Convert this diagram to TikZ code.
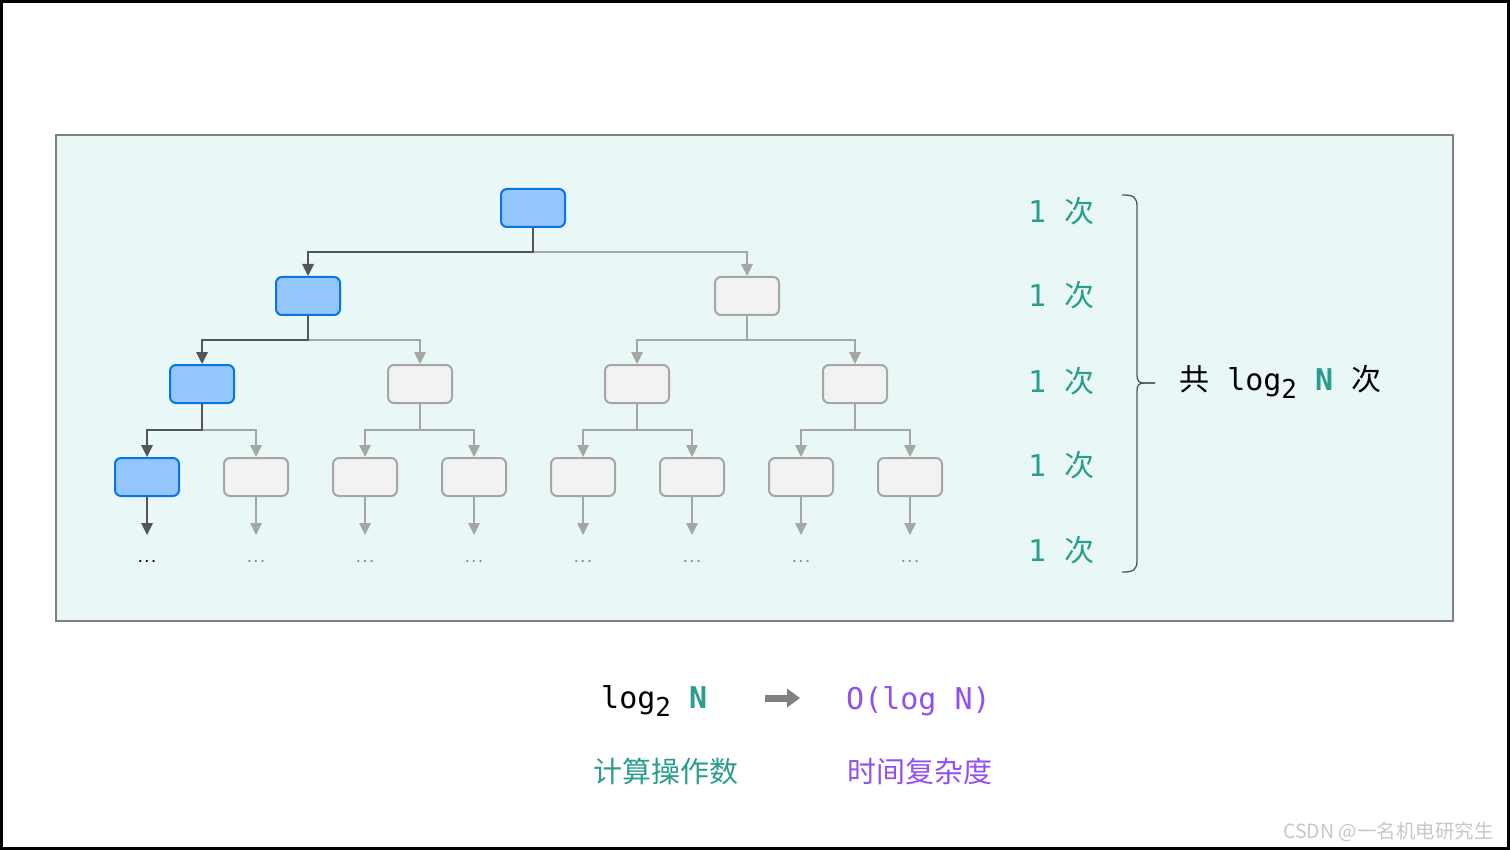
\documentclass[tikz,border=0pt]{standalone}
\usepackage{fontspec}
\usetikzlibrary{arrows.meta}
\newfontfamily\monof{DejaVu Sans Mono}
\newfontfamily\cjk{Noto Sans CJK SC}
\definecolor{panelbg}{HTML}{E9F8F7}
\definecolor{panelline}{HTML}{808080}
\definecolor{hifill}{HTML}{93C6FB}
\definecolor{hidraw}{HTML}{0A73E6}
\definecolor{lofill}{HTML}{F2F2F2}
\definecolor{lodraw}{HTML}{A6A6A6}
\definecolor{hiedge}{HTML}{555555}
\definecolor{loedge}{HTML}{A6A6A6}
\definecolor{opteal}{HTML}{2A9D8C}
\definecolor{oppurple}{HTML}{9150F0}
\newcommand\bigtxt{\fontsize{30}{30}\selectfont}
\newcommand\cjktxt{\fontsize{29}{29}\selectfont}
\newcommand\subtwo{\raisebox{-8pt}{\fontsize{26}{26}\selectfont 2}}

\tikzset{
  every node/.style={inner sep=0pt},
  hibox/.style={draw=hidraw, fill=hifill, line width=2pt, rounded corners=6pt,
    minimum width=64pt, minimum height=38pt},
  lobox/.style={hibox, draw=lodraw, fill=lofill},
  hiline/.style={draw=hiedge, line width=2pt,
    -{Triangle[length=12pt,width=12pt,line width=0pt]}},
  loline/.style={hiline, draw=loedge},
  dotsnode/.style={anchor=north, text height=27pt, text depth=0pt,
    font=\monof\bfseries\fontsize{11}{11}\selectfont},
  cnt/.style={anchor=base west, font=\monof\bigtxt, text=opteal}
}

\begin{document}
\begin{tikzpicture}[x=1pt,y=-1pt]
\useasboundingbox (0,0) rectangle (1510,850);
\draw[line width=3pt] (1.5,1.5) rectangle (1508.5,848.5);
\draw[fill=panelbg, draw=panelline, line width=2pt] (56,135) rectangle (1453,621);

% tree
\node[hibox] (r) at (533,208) {};
\node[hibox] (a) at (308,296) {};
\node[lobox] (b) at (747,296) {};
\node[hibox] (aa) at (202,384) {};
\node[lobox] (ab) at (420,384) {};
\node[lobox] (ba) at (637,384) {};
\node[lobox] (bb) at (855,384) {};
\node[hibox] (l1) at (147,477) {};
\node[dotsnode] (d1) at (147,535) {...};
\foreach \i in {2,...,8} {
  \pgfmathsetmacro\xx{38+109*\i}
  \node[lobox] (l\i) at (\xx,477) {};
  \node[dotsnode, text=black!45] (d\i) at (\xx,535) {...};
  \draw[loline] (l\i) -- (d\i);
}
\draw[hiline] (l1) -- (d1);

\draw[loline] (r.south) -- ++(0,24) -| (b.north);
\draw[hiline] (r.south) -- ++(0,24) -| (a.north);
\draw[loline] (a.south) -- ++(0,24) -| (ab.north);
\draw[hiline] (a.south) -- ++(0,24) -| (aa.north);
\draw[loline] (b.south) -- ++(0,24) -| (ba.north);
\draw[loline] (b.south) -- ++(0,24) -| (bb.north);
\draw[loline] (aa.south) -- ++(0,26) -| (l2.north);
\draw[hiline] (aa.south) -- ++(0,26) -| (l1.north);
\foreach \p/\u/\v in {ab/l3/l4, ba/l5/l6, bb/l7/l8} {
  \draw[loline] (\p.south) -- ++(0,26) -| (\u.north);
  \draw[loline] (\p.south) -- ++(0,26) -| (\v.north);
}

% counts
\foreach \y/\nm in {223/t1, 307/t2, 392/t3, 476/t4, 561/t5}
  \node[cnt] (\nm) at (1028,\y) {1 {\cjk 次}};

\coordinate (btop) at (1122,195);
\coordinate (bbot) at (1122,572);
\coordinate (btip) at (1155,383);
\draw[hiedge, line width=1.3pt] (btop) .. controls (1134,195) and (1137,197) .. (1137,207)
  -- (1137,375) .. controls (1137,381) and (1139,383) .. (1144,383) -- (btip);
\draw[hiedge, line width=1.3pt] (btip) -- (1144,383) .. controls (1139,383) and (1137,385) .. (1137,391)
  -- (1137,560) .. controls (1137,570) and (1134,572) .. (bbot);
\node[anchor=base west, font=\monof\bigtxt] (tot) at (1179,390)
  {{\cjk 共} log\subtwo{} \textcolor{opteal}{\textbf{N}} {\cjk 次}};

% bottom
\node[anchor=base west, font=\monof\bigtxt] (cost) at (601,708)
  {log\subtwo{} \textcolor{opteal}{\textbf{N}}};
\node[anchor=base west, font=\monof\bigtxt, text=oppurple] (cplx) at (846,709) {O(log N)};
\coordinate (ar1) at (765,698);
\coordinate (ar2) at (800,698);
\draw[draw=panelline, line width=7pt, -{Triangle[length=13pt,width=19pt,line width=0pt]}] (ar1) -- (ar2);
\node[anchor=base west, font=\cjk\cjktxt, text=opteal] (costcn) at (593,782) {计算操作数};
\node[anchor=base west, font=\cjk\cjktxt, text=oppurple] (cplxcn) at (847,782) {时间复杂度};

\node[anchor=base west, font=\cjk\fontsize{19.5}{19.5}\selectfont, text=black!22] (wm) at (1283,838)
  {CSDN @一名机电研究生};
\end{tikzpicture}
\end{document}
